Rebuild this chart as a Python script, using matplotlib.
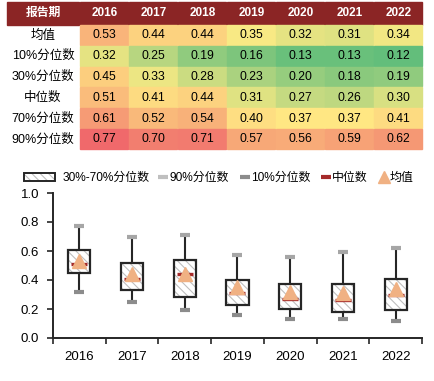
import matplotlib
matplotlib.use('Agg')
import matplotlib.pyplot as plt
import numpy as np
from matplotlib.patches import Rectangle, Patch
from matplotlib.lines import Line2D
from matplotlib.colors import LinearSegmentedColormap, TwoSlopeNorm
from matplotlib.legend_handler import HandlerTuple

plt.rcParams['font.family'] = ['Liberation Sans', 'Noto Sans CJK SC', 'DejaVu Sans']
plt.rcParams['hatch.linewidth'] = 0.8

years = ['2016', '2017', '2018', '2019', '2020', '2021', '2022']
row_names = ['均值', '10%分位数', '30%分位数', '中位数', '70%分位数', '90%分位数']
mean = [0.53, 0.44, 0.44, 0.35, 0.32, 0.31, 0.34]
p10 = [0.32, 0.25, 0.19, 0.16, 0.13, 0.13, 0.12]
p30 = [0.45, 0.33, 0.28, 0.23, 0.20, 0.18, 0.19]
median = [0.51, 0.41, 0.44, 0.31, 0.27, 0.26, 0.30]
p70 = [0.61, 0.52, 0.54, 0.40, 0.37, 0.37, 0.41]
p90 = [0.77, 0.70, 0.71, 0.57, 0.56, 0.59, 0.62]

table = np.array([mean, p10, p30, median, p70, p90])

fig = plt.figure(figsize=(4.34, 3.81), dpi=100)

# ---- table (pixel-like layout axes) ----
tab = fig.add_axes([0, 0, 1, 1])
tab.set_xlim(0, 434)
tab.set_ylim(381, 0)
tab.axis('off')

cmap = LinearSegmentedColormap.from_list('rdylgn', ['#63BE7B', '#FFEB84', '#F0696B'])
norm = TwoSlopeNorm(vmin=table.min(), vcenter=np.median(table), vmax=table.max())

head_c = '#8B2525'
col_x0, col_w = 80, 49
head_y0, head_h = 2, 22.5
row_y0, row_h = 25, 20.8

tab.add_patch(Rectangle((7, head_y0), col_x0 - 7 - 1, head_h, color=head_c))
tab.text((7 + col_x0) / 2, head_y0 + head_h / 2, '报告期', color='white',
         fontsize=8.5, fontweight='bold', ha='center', va='center')
for j, y in enumerate(years):
    x = col_x0 + j * col_w
    tab.add_patch(Rectangle((x, head_y0), col_w - 1, head_h, color=head_c))
    tab.text(x + col_w / 2, head_y0 + head_h / 2, y, color='white',
             fontsize=8.5, fontweight='bold', ha='center', va='center')

for i, name in enumerate(row_names):
    yy = row_y0 + i * row_h
    tab.text(43, yy + row_h / 2, name, fontsize=9, ha='center', va='center')
    for j in range(len(years)):
        x = col_x0 + j * col_w
        v = table[i, j]
        tab.add_patch(Rectangle((x, yy), col_w - 1, row_h - 1, color=cmap(norm(v))))
        tab.text(x + col_w / 2, yy + row_h / 2, f'{v:.2f}', fontsize=8.8,
                 ha='center', va='center')

# ---- box chart ----
ax = fig.add_axes([53 / 434, 1 - 338 / 381, 369 / 434, 145 / 381])
xs = np.arange(len(years))
dark = '#262626'
lo = np.array(p30)
hi = np.array(p70)

ax.vlines(xs, p10, p30, color=dark, lw=1.5, zorder=1)
ax.vlines(xs, p70, p90, color=dark, lw=1.5, zorder=1)
ax.bar(xs, hi - lo, bottom=lo, width=0.42, color='white', edgecolor='#BFBFBF',
       hatch='\\\\\\\\', lw=0, zorder=2)
ax.bar(xs, hi - lo, bottom=lo, width=0.42, fill=False, edgecolor=dark, lw=1.6, zorder=3)
ax.plot(xs, p90, ls='none', marker='_', ms=7, mew=3, color='#A6A6A6', zorder=4)
ax.plot(xs, p10, ls='none', marker='_', ms=7, mew=3, color='#8C8C8C', zorder=4)
ax.plot(xs, median, ls='none', marker='_', ms=11, mew=2.4, color='#A52A2A', zorder=4)
ax.plot(xs, mean, ls='none', marker='^', ms=10.5, color='#F0B183', zorder=5)

ax.set_xlim(-0.5, len(years) - 0.5)
ax.set_ylim(0, 1.0)
ax.set_yticks(np.arange(0, 1.01, 0.2))
ax.set_yticklabels([f'{t:.1f}' for t in np.arange(0, 1.01, 0.2)])
ax.set_xticks(xs)
ax.set_xticklabels(years)
ax.set_xticks(np.arange(-0.5, len(years)), minor=True)
ax.tick_params(axis='x', which='major', length=0, labelsize=9.5, pad=9)
ax.tick_params(axis='x', which='minor', length=4, width=1.2, color=dark, direction='out')
ax.tick_params(axis='y', length=4, width=1.2, color=dark, labelsize=9.5, pad=6)
for s in ['top', 'right']:
    ax.spines[s].set_visible(False)
for s in ['left', 'bottom']:
    ax.spines[s].set_color(dark)
    ax.spines[s].set_linewidth(1.4)

# ---- legend ----
box_h = (Patch(facecolor='white', edgecolor='#BFBFBF', hatch='\\\\\\\\', lw=0),
         Patch(fill=False, edgecolor=dark, lw=1.4))
fig.legend([box_h], ['30%-70%分位数'], handler_map={tuple: HandlerTuple(ndivide=1)},
           loc='center left', bbox_to_anchor=(24 / 434, 1 - 178 / 381),
           frameon=False, fontsize=8.6, handlelength=2.6, handleheight=0.6,
           handletextpad=0.6, borderpad=0, borderaxespad=0)
others = [Line2D([], [], ls='none', marker='_', ms=7, mew=3, color='#BFBFBF'),
          Line2D([], [], ls='none', marker='_', ms=7, mew=3, color='#8C8C8C'),
          Line2D([], [], ls='none', marker='_', ms=7, mew=3, color='#A52A2A'),
          Line2D([], [], ls='none', marker='^', ms=8, color='#F0B183')]
fig.legend(others, ['90%分位数', '10%分位数', '中位数', '均值'], ncol=4,
           loc='center left', bbox_to_anchor=(159 / 434, 1 - 178 / 381),
           frameon=False, fontsize=8.6, handlelength=0.7, handletextpad=0.15,
           columnspacing=1.0, borderpad=0, borderaxespad=0)

fig.savefig('out.png', dpi=100)
